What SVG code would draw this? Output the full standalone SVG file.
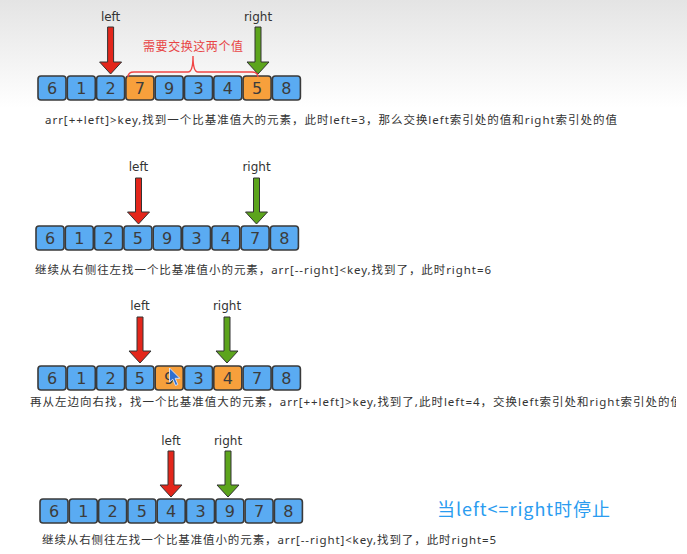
<svg xmlns="http://www.w3.org/2000/svg" width="687" height="554" viewBox="0 0 687 554">
<defs>
<linearGradient id="bg" x1="0" y1="0" x2="0" y2="1">
<stop offset="0" stop-color="#e4e4e4"/>
<stop offset="1" stop-color="#ffffff"/>
</linearGradient>
<clipPath id="clip3"><rect x="0" y="390" width="676" height="30"/></clipPath>
<style>
.c{stroke:#3a3a3a;stroke-width:1.6}
.b{fill:#5aabf2}
.o{fill:#f7a03c}
.n{font-family:"DejaVu Sans","Noto Sans",sans-serif;font-size:16px;fill:#3c3c3c;text-anchor:middle}
.lbl{font-family:"DejaVu Sans","Noto Sans",sans-serif;font-size:12px;fill:#333;text-anchor:middle}
.cap{font-family:"Noto Sans","Noto Sans CJK SC",sans-serif;font-size:11.5px;fill:#333}
.ar{stroke:#333;stroke-width:1}
.red{fill:#e3261b}
.grn{fill:#5ca41c}
</style>
</defs>
<rect x="0" y="0" width="687" height="554" fill="#fff"/>
<rect x="0" y="0" width="687" height="108" fill="url(#bg)"/>

<!-- Row 1 -->
<g id="row1">
<rect class="c b" x="38" y="76" width="28" height="24" rx="3"/>
<rect class="c b" x="67.3" y="76" width="28" height="24" rx="3"/>
<rect class="c b" x="96.6" y="76" width="28" height="24" rx="3"/>
<rect class="c o" x="125.9" y="76" width="28" height="24" rx="3"/>
<rect class="c b" x="155.2" y="76" width="28" height="24" rx="3"/>
<rect class="c b" x="184.5" y="76" width="28" height="24" rx="3"/>
<rect class="c b" x="213.8" y="76" width="28" height="24" rx="3"/>
<rect class="c o" x="243.1" y="76" width="28" height="24" rx="3"/>
<rect class="c b" x="272.4" y="76" width="28" height="24" rx="3"/>
<text class="n" y="94"><tspan x="52">6</tspan><tspan x="81.3">1</tspan><tspan x="110.6">2</tspan><tspan x="139.9">7</tspan><tspan x="169.2">9</tspan><tspan x="198.5">3</tspan><tspan x="227.8">4</tspan><tspan x="257.1">5</tspan><tspan x="286.4">8</tspan></text>
</g>
<g id="row1-pointers">
<text class="lbl" x="110.6" y="21">left</text>
<polygon class="ar red" points="107.6,27 113.6,27 113.6,62 121.6,62 110.6,74 99.6,62 107.6,62"/>
<text class="lbl" x="258" y="21">right</text>
<polygon class="ar grn" points="255,27 261,27 261,62 269,62 258,74 247,62 255,62"/>
<path d="M128,77 Q128,72 134,72 L188,72 Q193,72 193,56 Q193,72 198,72 L252,72 Q258,72 258,77" fill="none" stroke="#f04545" stroke-width="1.4"/>
<text x="193" y="51" font-family="Noto Sans CJK SC,sans-serif" font-size="12" fill="#e84545" text-anchor="middle" textLength="100">需要交换这两个值</text>
</g>
<text class="cap" x="45" y="124" textLength="572">arr[++left]&gt;key,找到一个比基准值大的元素，此时left=3，那么交换left索引处的值和right索引处的值</text>

<!-- Row 2 -->
<g id="row2">
<rect class="c b" x="36" y="226" width="28" height="24" rx="3"/>
<rect class="c b" x="65.3" y="226" width="28" height="24" rx="3"/>
<rect class="c b" x="94.6" y="226" width="28" height="24" rx="3"/>
<rect class="c b" x="123.9" y="226" width="28" height="24" rx="3"/>
<rect class="c b" x="153.2" y="226" width="28" height="24" rx="3"/>
<rect class="c b" x="182.5" y="226" width="28" height="24" rx="3"/>
<rect class="c b" x="211.8" y="226" width="28" height="24" rx="3"/>
<rect class="c b" x="241.1" y="226" width="28" height="24" rx="3"/>
<rect class="c b" x="270.4" y="226" width="28" height="24" rx="3"/>
<text class="n" y="244"><tspan x="50">6</tspan><tspan x="79.3">1</tspan><tspan x="108.6">2</tspan><tspan x="137.9">5</tspan><tspan x="167.2">9</tspan><tspan x="196.5">3</tspan><tspan x="225.8">4</tspan><tspan x="255.1">7</tspan><tspan x="284.4">8</tspan></text>
</g>
<g id="row2-pointers">
<text class="lbl" x="138.5" y="171">left</text>
<polygon class="ar red" points="135.5,178 141.5,178 141.5,212 149.5,212 138.5,224 127.5,212 135.5,212"/>
<text class="lbl" x="256.5" y="171">right</text>
<polygon class="ar grn" points="253.5,178 259.5,178 259.5,212 267.5,212 256.5,224 245.5,212 253.5,212"/>
</g>
<text class="cap" x="35" y="274" textLength="456">继续从右侧往左找一个比基准值小的元素，arr[--right]&lt;key,找到了，此时right=6</text>

<!-- Row 3 -->
<g id="row3">
<rect class="c b" x="38" y="366" width="28" height="24" rx="3"/>
<rect class="c b" x="67.3" y="366" width="28" height="24" rx="3"/>
<rect class="c b" x="96.6" y="366" width="28" height="24" rx="3"/>
<rect class="c b" x="125.9" y="366" width="28" height="24" rx="3"/>
<rect class="c o" x="155.2" y="366" width="28" height="24" rx="3"/>
<rect class="c b" x="184.5" y="366" width="28" height="24" rx="3"/>
<rect class="c o" x="213.8" y="366" width="28" height="24" rx="3"/>
<rect class="c b" x="243.1" y="366" width="28" height="24" rx="3"/>
<rect class="c b" x="272.4" y="366" width="28" height="24" rx="3"/>
<text class="n" y="384"><tspan x="52">6</tspan><tspan x="81.3">1</tspan><tspan x="110.6">2</tspan><tspan x="139.9">5</tspan><tspan x="169.2">9</tspan><tspan x="198.5">3</tspan><tspan x="227.8">4</tspan><tspan x="257.1">7</tspan><tspan x="286.4">8</tspan></text>
<polygon points="169.5,368 169.5,382 172.8,379.2 175.5,385.5 177.8,384.5 175.2,378.3 179.8,378.3" fill="#2f6fd0" stroke="#dce8ff" stroke-width="0.9"/>
</g>
<g id="row3-pointers">
<text class="lbl" x="140" y="310">left</text>
<polygon class="ar red" points="137,317 143,317 143,351 151,351 140,363 129,351 137,351"/>
<text class="lbl" x="227" y="310">right</text>
<polygon class="ar grn" points="224,317 230,317 230,351 238,351 227,363 216,351 224,351"/>
</g>
<g clip-path="url(#clip3)">
<text class="cap" x="30" y="406" textLength="652">再从左边向右找，找一个比基准值大的元素，arr[++left]&gt;key,找到了,此时left=4，交换left索引处和right索引处的值</text>
</g>

<!-- Row 4 -->
<g id="row4">
<rect class="c b" x="40" y="499" width="28" height="24" rx="3"/>
<rect class="c b" x="69.3" y="499" width="28" height="24" rx="3"/>
<rect class="c b" x="98.6" y="499" width="28" height="24" rx="3"/>
<rect class="c b" x="127.9" y="499" width="28" height="24" rx="3"/>
<rect class="c b" x="157.2" y="499" width="28" height="24" rx="3"/>
<rect class="c b" x="186.5" y="499" width="28" height="24" rx="3"/>
<rect class="c b" x="215.8" y="499" width="28" height="24" rx="3"/>
<rect class="c b" x="245.1" y="499" width="28" height="24" rx="3"/>
<rect class="c b" x="274.4" y="499" width="28" height="24" rx="3"/>
<text class="n" y="517"><tspan x="54">6</tspan><tspan x="83.3">1</tspan><tspan x="112.6">2</tspan><tspan x="141.9">5</tspan><tspan x="171.2">4</tspan><tspan x="200.5">3</tspan><tspan x="229.8">9</tspan><tspan x="259.1">7</tspan><tspan x="288.4">8</tspan></text>
</g>
<g id="row4-pointers">
<text class="lbl" x="171" y="445">left</text>
<polygon class="ar red" points="168,451 174,451 174,485 182,485 171,497 160,485 168,485"/>
<text class="lbl" x="228" y="445">right</text>
<polygon class="ar grn" points="225,451 231,451 231,485 239,485 228,497 217,485 225,485"/>
</g>
<text class="cap" x="42" y="544" textLength="454">继续从右侧往左找一个比基准值小的元素，arr[--right]&lt;key,找到了，此时right=5</text>
<text x="437" y="516" font-family="Noto Sans CJK SC,sans-serif" font-size="18" fill="#2a9cf0" textLength="173">当left&lt;=right时停止</text>
</svg>
